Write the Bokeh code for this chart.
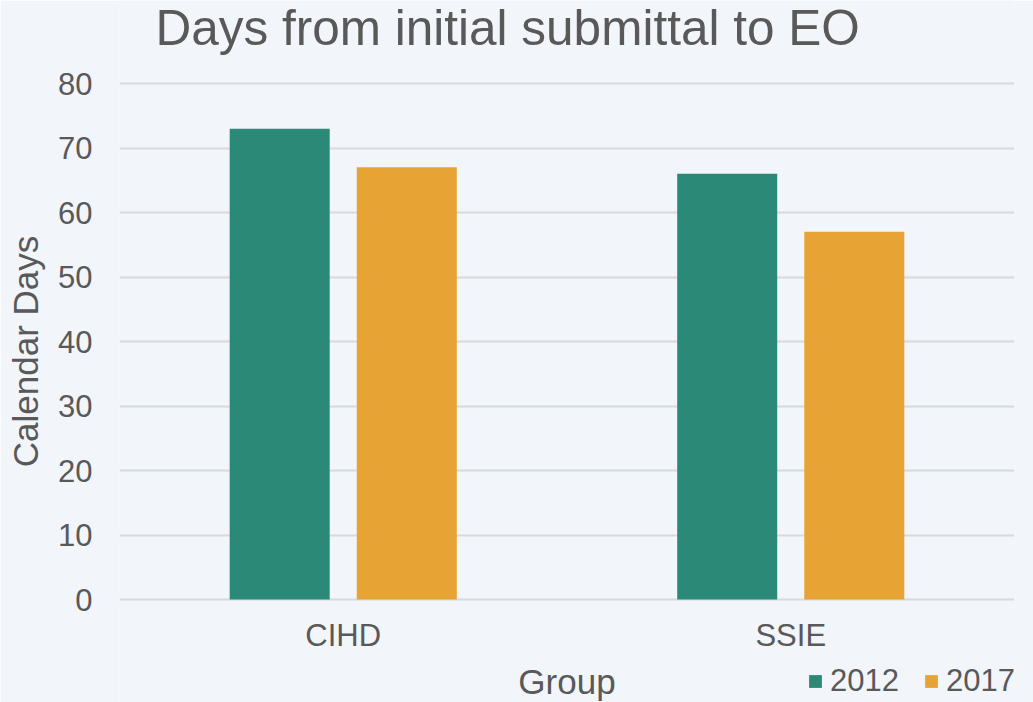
from bokeh.plotting import figure
from bokeh.models import FactorRange, Range1d, FixedTicker, Legend, LegendItem, ColumnDataSource, Label
from bokeh.transform import dodge
from bokeh.embed import file_html
from bokeh.resources import INLINE

groups = ["CIHD", "SSIE"]
series_names = ["2012", "2017"]
values_2012 = [73, 66]
values_2017 = [67, 57]
y_ticks = [0, 10, 20, 30, 40, 50, 60, 70, 80]
title_text = "Days from initial submittal to EO"

colors = ["#2b8a77", "#e7a434"]
text_color = "#595959"
bg = "#f2f5f9"
FONT = "Liberation Sans"

# layout: frame spans the full height; value 0 sits 103 px above the bottom,
# value 80 sits 83 px below the top (6.45 px per day)
W, H = 1033, 702
PX_PER_UNIT = (599 - 83) / 80.0
y_lo = -(H - 599) / PX_PER_UNIT
y_hi = 80 + 83 / PX_PER_UNIT

src = ColumnDataSource(dict(group=groups, v2012=values_2012, v2017=values_2017))

p = figure(
    width=W, height=H, title=None,
    x_range=FactorRange(*groups),
    y_range=Range1d(y_lo, y_hi),
    output_backend="svg", toolbar_location=None,
    min_border_left=119, min_border_right=19, min_border_top=0, min_border_bottom=0,
)
p.background_fill_color = bg
p.border_fill_color = bg
p.outline_line_color = None

r1 = p.vbar(x=dodge("group", -0.142, range=p.x_range), top="v2012", width=0.2235,
            source=src, fill_color=colors[0], line_color=None)
r2 = p.vbar(x=dodge("group", 0.142, range=p.x_range), top="v2017", width=0.2235,
            source=src, fill_color=colors[1], line_color=None)

# chart title
p.add_layout(Label(
    x=36, y=H - 27, x_units="screen", y_units="screen", text=title_text,
    text_font=FONT, text_font_size="49.5px", text_color=text_color,
    text_align="left", text_baseline="alphabetic",
))

# y axis
p.yaxis.ticker = FixedTicker(ticks=y_ticks)
p.yaxis.axis_label = "Calendar Days"
p.yaxis.axis_label_text_font = FONT
p.yaxis.axis_label_text_font_size = "35px"
p.yaxis.axis_label_text_font_style = "normal"
p.yaxis.axis_label_text_color = text_color
p.yaxis.axis_label_standoff = 10
p.yaxis.major_label_text_font = FONT
p.yaxis.major_label_text_font_size = "31px"
p.yaxis.major_label_text_color = text_color
p.yaxis.major_label_standoff = 27
p.yaxis.axis_line_color = None
p.yaxis.major_tick_line_color = None
p.yaxis.minor_tick_line_color = None
p.yaxis.major_tick_out = 0

# x axis pinned at y = 0
p.xaxis.fixed_location = 0
p.xaxis.axis_label = "Group"
p.xaxis.axis_label_text_font = FONT
p.xaxis.axis_label_text_font_size = "35px"
p.xaxis.axis_label_text_font_style = "normal"
p.xaxis.axis_label_text_color = text_color
p.xaxis.axis_label_standoff = 6
p.xaxis.major_label_text_font = FONT
p.xaxis.major_label_text_font_size = "31px"
p.xaxis.major_label_text_color = text_color
p.xaxis.major_label_standoff = 18
p.xaxis.axis_line_color = None
p.xaxis.major_tick_line_color = None
p.xaxis.minor_tick_line_color = None
p.xaxis.major_tick_out = 0

p.xgrid.grid_line_color = None
p.ygrid.grid_line_color = "#d9d9d9"
p.ygrid.grid_line_width = 2

legend = Legend(
    items=[LegendItem(label=series_names[0], renderers=[r1]),
           LegendItem(label=series_names[1], renderers=[r2])],
    location=(688, 3), orientation="horizontal",
    glyph_width=16, glyph_height=16, label_standoff=7, spacing=24,
    padding=0, margin=0, border_line_color=None, background_fill_alpha=0,
    label_text_font=FONT, label_text_font_size="31px", label_text_color=text_color,
)
p.add_layout(legend, "center")

open("out.html", "w").write(file_html(p, INLINE))
